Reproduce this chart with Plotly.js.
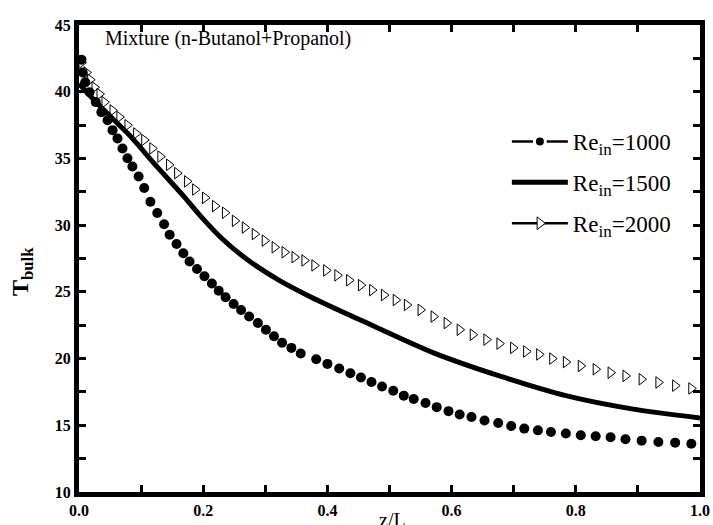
<!DOCTYPE html>
<html>
<head>
<meta charset="utf-8">
<script src="https://cdn.plot.ly/plotly-3.0.1.min.js"></script>
<style>
  html, body { margin: 0; padding: 0; background: #fff; }
  #wrap { position: relative; width: 713px; height: 525px; }
  #chart { width: 713px; height: 525px; }
  /* heavy frame around the plotting area */
  #frame { position: absolute; left: 74px; top: 20px; width: 631px; height: 477px;
           box-sizing: border-box; border: 5px solid #000; pointer-events: none; }
</style>
</head>
<body>
<div id="wrap">
  <div id="chart"></div>
  <div id="frame"></div>
</div>
<script>
// Bulk temperature along the dimensionless length z/L
// for three inlet Reynolds numbers (n-Butanol + Propanol mixture).

// Re_in = 1000 (filled circles)
const zRe1000 = [0.004, 0.006, 0.010, 0.017, 0.027, 0.036, 0.046, 0.054, 0.062, 0.070,
                 0.078, 0.086, 0.096, 0.105, 0.115, 0.126, 0.137, 0.146, 0.157, 0.168,
                 0.178, 0.190, 0.202, 0.214, 0.225, 0.236, 0.249, 0.261, 0.274, 0.288,
                 0.301, 0.314, 0.327, 0.342, 0.357, 0.382, 0.400, 0.419, 0.437, 0.454,
                 0.471, 0.488, 0.506, 0.523, 0.539, 0.558, 0.576, 0.595, 0.613, 0.632,
                 0.653, 0.675, 0.696, 0.717, 0.739, 0.760, 0.784, 0.808, 0.832, 0.856,
                 0.880, 0.906, 0.933, 0.960, 0.986];
const tRe1000 = [42.40, 41.44, 40.70, 39.96, 39.22, 38.47, 37.86, 37.12, 36.50, 35.75,
                 35.01, 34.40, 33.65, 32.79, 31.75, 30.91, 30.07, 29.28, 28.59, 27.89,
                 27.28, 26.71, 26.17, 25.62, 25.08, 24.59, 24.09, 23.64, 23.15, 22.66,
                 22.16, 21.67, 21.18, 20.80, 20.38, 19.95, 19.60, 19.25, 18.90, 18.58,
                 18.25, 17.91, 17.59, 17.22, 16.97, 16.67, 16.36, 16.06, 15.81, 15.62,
                 15.36, 15.17, 14.95, 14.75, 14.62, 14.50, 14.38, 14.25, 14.18, 14.10,
                 13.95, 13.85, 13.75, 13.70, 13.62];

// Re_in = 1500 (solid line)
const zRe1500 = [0.000, 0.038, 0.081, 0.123, 0.166, 0.198, 0.230, 0.273, 0.321, 0.374,
                 0.464, 0.571, 0.677, 0.784, 0.890, 1.000];
const tRe1500 = [40.60, 38.72, 36.75, 34.52, 32.30, 30.56, 29.00, 27.35, 25.90, 24.60,
                 22.66, 20.43, 18.70, 17.22, 16.23, 15.55];

// Re_in = 2000 (open right triangles)
const zRe2000 = [0.004, 0.012, 0.018, 0.025, 0.033, 0.041, 0.054, 0.065, 0.078, 0.092,
                 0.105, 0.118, 0.131, 0.145, 0.158, 0.174, 0.187, 0.203, 0.219, 0.235,
                 0.251, 0.267, 0.283, 0.299, 0.315, 0.331, 0.347, 0.363, 0.379, 0.398,
                 0.416, 0.435, 0.454, 0.472, 0.491, 0.510, 0.528, 0.550, 0.571, 0.592,
                 0.613, 0.634, 0.656, 0.677, 0.699, 0.720, 0.741, 0.762, 0.784, 0.808,
                 0.832, 0.856, 0.880, 0.906, 0.933, 0.960, 0.986];
const tRe2000 = [42.18, 41.44, 40.90, 40.33, 39.83, 39.22, 38.60, 38.10, 37.49, 36.87,
                 36.38, 35.75, 35.14, 34.52, 33.90, 33.28, 32.67, 32.05, 31.43, 30.93,
                 30.32, 29.82, 29.33, 28.84, 28.34, 27.97, 27.60, 27.35, 26.98, 26.61,
                 26.24, 25.87, 25.50, 25.13, 24.76, 24.39, 24.02, 23.65, 23.15, 22.66,
                 22.16, 21.79, 21.42, 21.12, 20.80, 20.53, 20.31, 20.00, 19.74, 19.45,
                 19.20, 18.94, 18.70, 18.45, 18.21, 17.97, 17.76];

const SUB = '<sub><span style="font-size:17px">in</span></sub>';
const seriesNames = ['Re' + SUB + '=1000', 'Re' + SUB + '=1500', 'Re' + SUB + '=2000'];
// tick positions (labelled majors, unlabelled intermediates)
const xTickVals = [0, 0.1, 0.2, 0.3, 0.4, 0.5, 0.6, 0.7, 0.8, 0.9, 1.0];
const xTickText = ['0.0', '', '0.2', '', '0.4', '', '0.6', '', '0.8', '', '1.0'];
const yTickVals = [10, 12.5, 15, 17.5, 20, 22.5, 25, 27.5, 30, 32.5, 35, 37.5, 40, 42.5, 45];
const yTickText = ['10', '', '15', '', '20', '', '25', '', '30', '', '35', '', '40', '', '45'];

const SERIF = '"Liberation Serif", "Times New Roman", serif';

const traces = [
  // data
  { x: zRe1000, y: tRe1000, type: 'scatter', mode: 'markers', showlegend: false,
    marker: { symbol: 'circle', size: 10, color: '#000' } },
  { x: zRe1500, y: tRe1500, type: 'scatter', mode: 'lines', showlegend: false,
    line: { color: '#000', width: 5, shape: 'spline', smoothing: 0.8 } },
  { x: zRe2000, y: tRe2000, type: 'scatter', mode: 'markers', showlegend: false,
    marker: { symbol: 'triangle-right-open', size: 10, color: '#000',
              line: { width: 1, color: '#000' } } },
  // legend keys
  { x: [null], y: [null], type: 'scatter', mode: 'lines+markers', name: seriesNames[0],
    legendgroup: 'a',
    line: { color: '#000', width: 2.5 },
    marker: { symbol: 'circle', size: 11, color: '#000', line: { color: '#fff', width: 3 } } },
  { x: [null], y: [null], type: 'scatter', mode: 'lines', name: seriesNames[1],
    legendgroup: 'b',
    line: { color: '#000', width: 5 } },
  { x: [null], y: [null], type: 'scatter', mode: 'lines+markers', name: seriesNames[2],
    legendgroup: 'c',
    line: { color: '#000', width: 2.5 },
    marker: { symbol: 'triangle-right', size: 11, color: '#fff', line: { color: '#000', width: 1 } } }
];

const axisCommon = {
  showline: true, linecolor: '#000', linewidth: 5, mirror: 'ticks',
  ticks: 'inside', ticklen: 7, tickwidth: 3, tickcolor: '#000',
  showgrid: false, zeroline: false,
  tickfont: { family: SERIF, size: 16, color: '#000', weight: 'bold' }
};

const layout = {
  width: 713, height: 525,
  margin: { l: 79, r: 13, t: 25, b: 33, pad: 0 },
  paper_bgcolor: '#fff', plot_bgcolor: '#fff',
  showlegend: true,
  xaxis: Object.assign({}, axisCommon, {
    range: [0, 1], tickmode: 'array', tickvals: xTickVals, ticktext: xTickText
  }),
  yaxis: Object.assign({}, axisCommon, {
    range: [10, 45], tickmode: 'array', tickvals: yTickVals, ticktext: yTickText
  }),
  legend: {
    x: 0.689, y: 0.7966, xanchor: 'left', yanchor: 'top',
    bgcolor: 'rgba(0,0,0,0)', borderwidth: 0,
    itemwidth: 56, traceorder: 'grouped', tracegroupgap: 8,
    font: { family: SERIF, size: 23, color: '#000' }
  },
  annotations: [
    { text: 'Mixture (n-Butanol+Propanol)', xref: 'paper', yref: 'paper',
      x: 0.0386, y: 0.972, xanchor: 'left', yanchor: 'middle', showarrow: false,
      font: { family: SERIF, size: 20, color: '#000' } },
    { text: 'z/L', xref: 'paper', yref: 'paper',
      x: 0.5056, y: -0.06, xanchor: 'center', yanchor: 'middle', showarrow: false,
      font: { family: SERIF, size: 20, color: '#000' } },
    { text: 'T<sub>bulk</sub>', xref: 'paper', yref: 'paper', textangle: -90,
      x: -0.0918, y: 0.473, xanchor: 'center', yanchor: 'middle', showarrow: false,
      font: { family: SERIF, size: 24, color: '#000', weight: 'bold' } }
  ]
};

Plotly.newPlot('chart', traces, layout, { staticPlot: true, displayModeBar: false });
</script>
</body>
</html>
